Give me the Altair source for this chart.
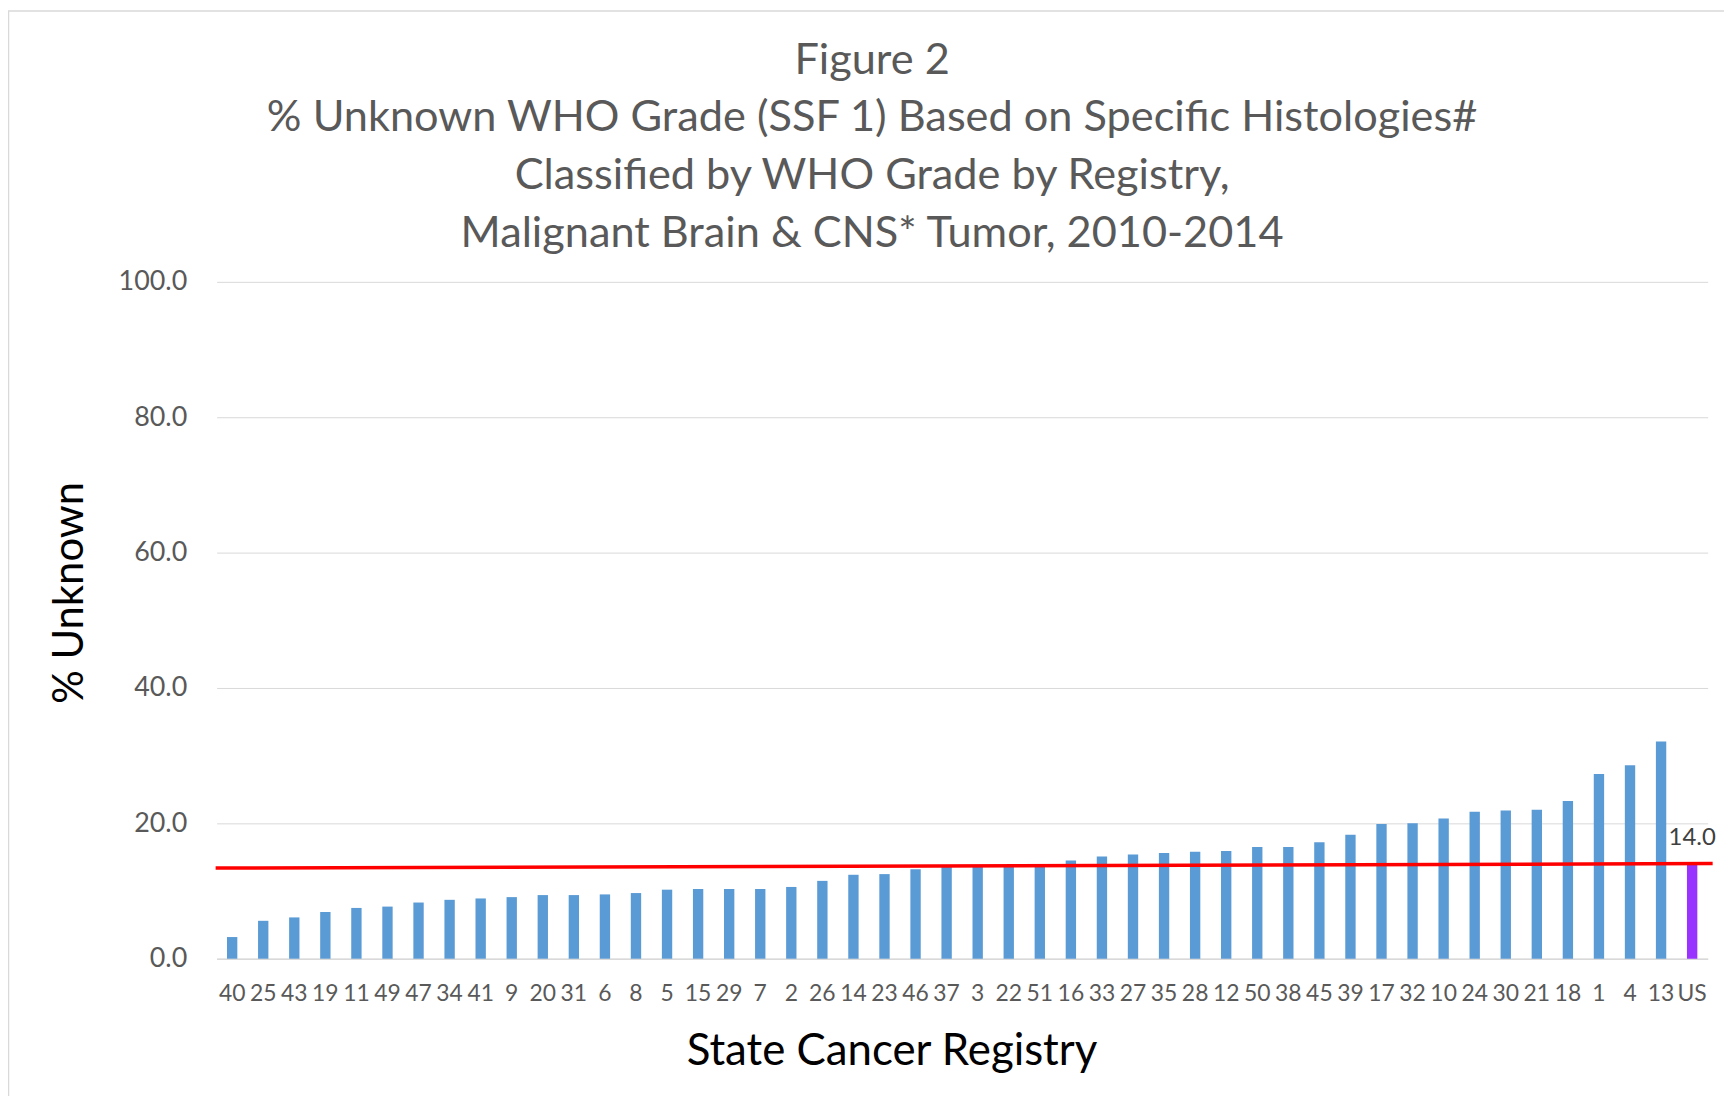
import altair as alt
import pandas as pd

# ---- data ----
registries = ["40", "25", "43", "19", "11", "49", "47", "34", "41", "9",
              "20", "31", "6", "8", "5", "15", "29", "7", "2", "26",
              "14", "23", "46", "37", "3", "22", "51", "16", "33", "27",
              "35", "28", "12", "50", "38", "45", "39", "17", "32", "10",
              "24", "30", "21", "18", "1", "4", "13", "US"]
pct_unknown = [3.2, 5.6, 6.1, 6.9, 7.5, 7.7, 8.3, 8.7, 8.9, 9.1,
               9.4, 9.4, 9.5, 9.7, 10.2, 10.3, 10.3, 10.3, 10.6, 11.5,
               12.4, 12.5, 13.2, 13.6, 13.7, 13.7, 13.8, 14.5, 15.1, 15.4,
               15.6, 15.8, 15.9, 16.5, 16.5, 17.2, 18.3, 19.9, 20.0, 20.7,
               21.7, 21.9, 22.0, 23.3, 27.3, 28.6, 32.1, 14.0]
y_ticks = [0, 20, 40, 60, 80, 100]
trend_start = [13.4]
trend_end = [14.05]
title_lines = ["Figure 2",
               "% Unknown WHO Grade (SSF 1) Based on Specific Histologies#",
               "Classified by WHO Grade by Registry,",
               "Malignant Brain & CNS* Tumor, 2010-2014"]

W, H = 1498, 680
PAD = {"left": 209.6, "top": 272.6, "right": 16.4, "bottom": 135.4}
FONT = "Lato"

df = pd.DataFrame({"registry": registries, "pct": pct_unknown})
trend_df = pd.DataFrame({"y0": trend_start, "y1": trend_end})
one_row = pd.DataFrame({"k": [0]})

x_enc = alt.X(
    "registry:N", sort=registries,
    scale=alt.Scale(paddingInner=2 / 3, paddingOuter=1 / 3),
    axis=alt.Axis(title="State Cancer Registry", labelAngle=0, labelFontSize=23,
                  labelColor="#595959", labelPadding=24, labelOverlap=False,
                  ticks=False, domainColor="#D9D9D9", domainWidth=1.5,
                  titleFontSize=44, titleColor="black", titleFontWeight="normal",
                  titleX=678, titleY=93, titleBaseline="middle"),
)
y_enc = alt.Y(
    "pct:Q", scale=alt.Scale(domain=[0, 100]),
    axis=alt.Axis(title="% Unknown", values=y_ticks, format=".1f", grid=True,
                  gridColor="#D9D9D9", gridWidth=1, domain=False, ticks=False,
                  labelFontSize=27, labelColor="#595959", labelPadding=30,
                  titleFontSize=42, titleColor="black", titleFontWeight="normal",
                  titleX=-148, titleY=312, titleBaseline="middle"),
)

base = alt.Chart(df)

bars = base.mark_bar().encode(
    x=x_enc,
    y=y_enc,
    color=alt.condition(alt.datum.registry == "US", alt.value("#9933FF"), alt.value("#5B9BD5")),
)

label = base.transform_filter(alt.datum.registry == "US").mark_text(
    dy=-26, fontSize=24, color="#404040", baseline="middle", font=FONT
).encode(
    x=alt.X("registry:N", sort=registries),
    y=alt.Y("pct:Q"),
    text=alt.Text("pct:Q", format=".1f"),
)

trend = alt.Chart(trend_df).mark_rule(color="#FF0000", strokeWidth=3.5).encode(
    x=alt.value(-1), x2=alt.value(W + 5),
    y=alt.Y("y0:Q"), y2=alt.Y2("y1:Q"),
)

border = alt.Chart(one_row).mark_rect(filled=False, stroke="#D9D9D9", strokeWidth=1.5).encode(
    x=alt.value(-PAD["left"] + 0.5), x2=alt.value(W + 200),
    y=alt.value(-PAD["top"] + 0.5), y2=alt.value(H + 400),
)

chart = alt.layer(border, bars, trend, label).properties(
    width=W, height=H,
    autosize=alt.AutoSizeParams(type="none"),
    padding=PAD,
    title=alt.TitleParams(text=title_lines, fontSize=43.5, color="#595959",
                          fontWeight="normal", lineHeight=58, offset=25,
                          dy=PAD["top"] - 0.5, dx=-90.5, frame="group",
                          anchor="middle", font=FONT),
).configure(font=FONT).configure_view(strokeWidth=0)

chart.save("out.html", embed_options={"renderer": "svg", "actions": False})
